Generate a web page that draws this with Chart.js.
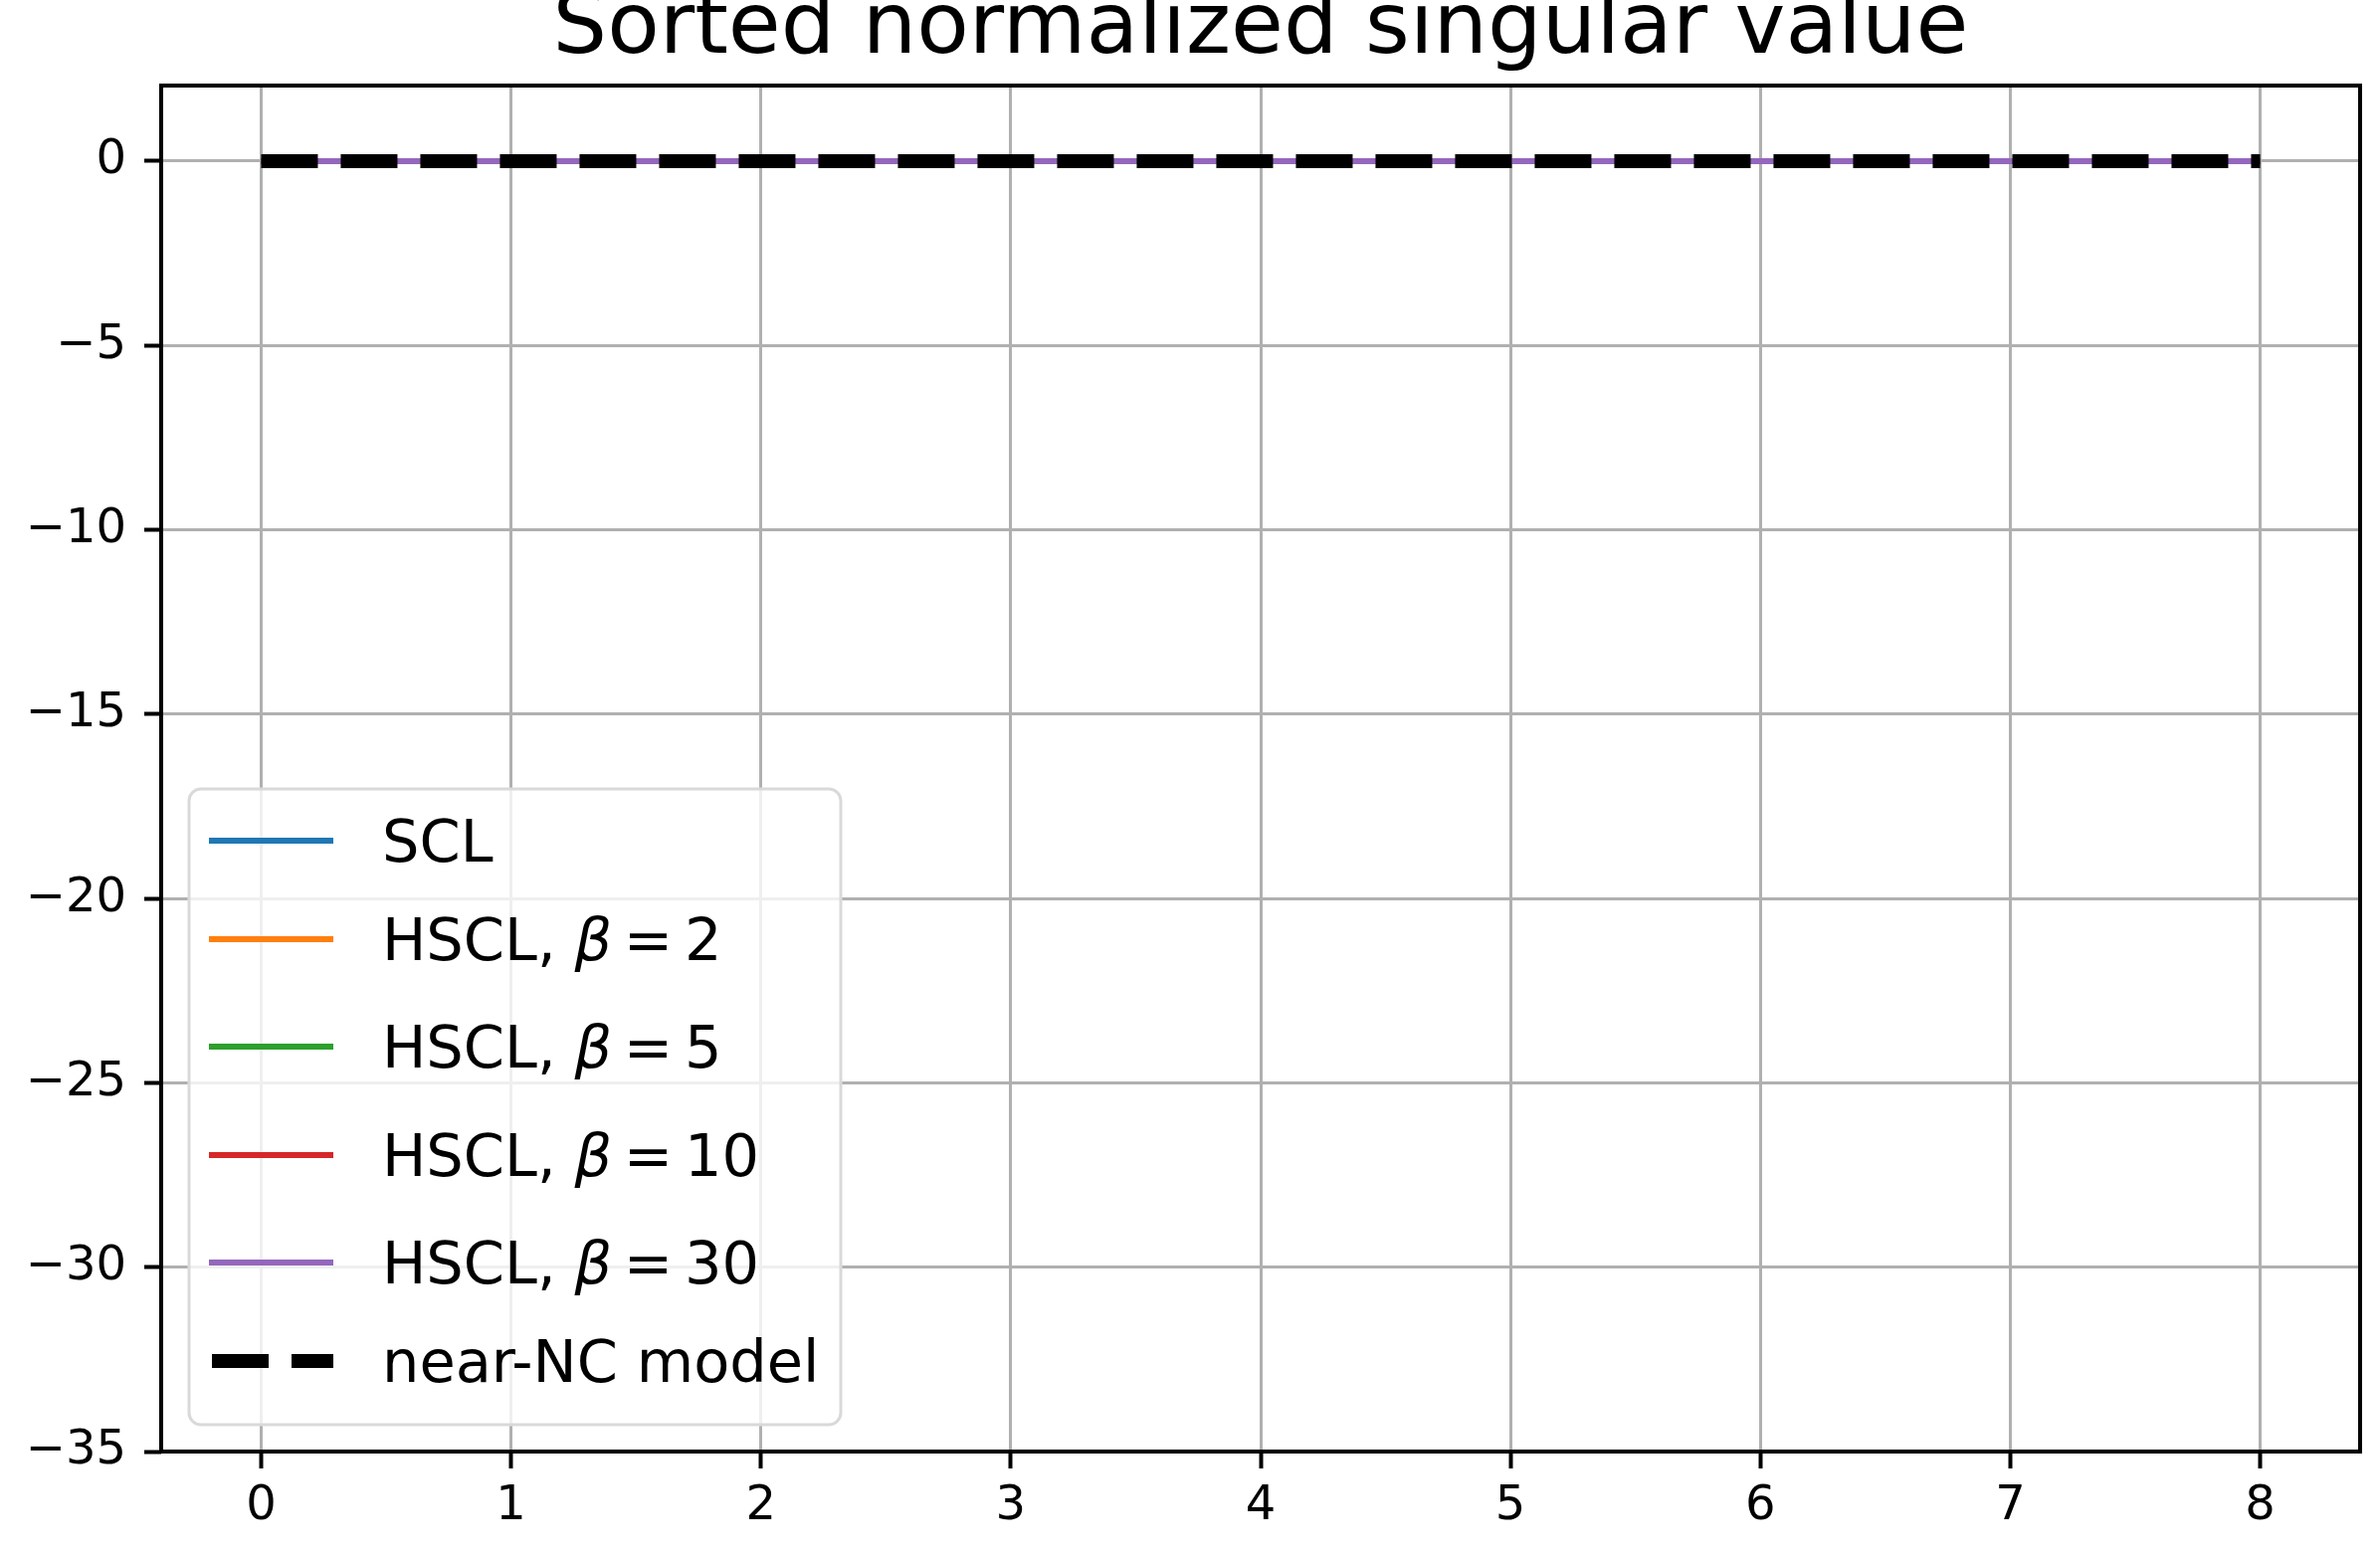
<!DOCTYPE html>
<html>
<head>
<meta charset="utf-8">
<script src="https://cdn.jsdelivr.net/npm/chart.js@4.4.1/dist/chart.umd.min.js"></script>
<style>
  html, body { margin: 0; padding: 0; background: #fff; }
</style>
</head>
<body>
<canvas id="chart" width="2392" height="1565"></canvas>
<script>
const xValues = [0, 1, 2, 3, 4, 5, 6, 7, 8];
const sclValues = [0, 0, 0, 0, 0, 0, 0, 0, 0];
const hscl2Values = [0, 0, 0, 0, 0, 0, 0, 0, 0];
const hscl5Values = [0, 0, 0, 0, 0, 0, 0, 0, 0];
const hscl10Values = [0, 0, 0, 0, 0, 0, 0, 0, 0];
const hscl30Values = [0, 0, 0, 0, 0, 0, 0, 0, 0];
const nearNCValues = [0, 0, 0, 0, 0, 0, 0, 0, 0];

const seriesLabels = ["SCL", "HSCL, β = 2", "HSCL, β = 5", "HSCL, β = 10", "HSCL, β = 30", "near-NC model"];
const xTicks = [0, 1, 2, 3, 4, 5, 6, 7, 8];
const yTicks = [-35, -30, -25, -20, -15, -10, -5, 0];

Chart.defaults.font.family = "'DejaVu Sans', sans-serif";
Chart.defaults.color = "#000";

function points(ys) {
  return xValues.map((x, i) => ({ x, y: ys[i] }));
}

function lineSet(label, ys, color, order) {
  return {
    label,
    data: points(ys),
    borderColor: color,
    backgroundColor: color,
    borderWidth: 6,
    pointRadius: 0,
    fill: false,
    tension: 0,
    order
  };
}

const datasets = [
  lineSet(seriesLabels[0], sclValues, "#1f77b4", 5),
  lineSet(seriesLabels[1], hscl2Values, "#ff7f0e", 4),
  lineSet(seriesLabels[2], hscl5Values, "#2ca02c", 3),
  lineSet(seriesLabels[3], hscl10Values, "#d62728", 2),
  lineSet(seriesLabels[4], hscl30Values, "#9467bd", 1),
  {
    label: seriesLabels[5],
    data: points(nearNCValues),
    borderColor: "#000",
    backgroundColor: "#000",
    borderWidth: 14,
    borderDash: [57, 23],
    pointRadius: 0,
    fill: false,
    order: 0
  }
];

function minusFmt(v) {
  return v < 0 ? "\u2212" + Math.abs(v) : String(v);
}

// frame round the plot area, like matplotlib spines
const framePlugin = {
  id: "frame",
  afterDatasetsDraw(chart) {
    const { ctx, chartArea: a } = chart;
    ctx.save();
    ctx.strokeStyle = "#000";
    ctx.lineWidth = 4;
    ctx.strokeRect(a.left, a.top, a.right - a.left, a.bottom - a.top);
    ctx.restore();
  }
};

// legend drawn inside the axes, lower left
const legendPlugin = {
  id: "innerLegend",
  afterDraw(chart) {
    const ctx = chart.ctx;
    const box = { x: 190, y: 793, w: 655, h: 639, r: 12 };
    const rows = [845, 944, 1052, 1161, 1269, 1368];
    const size = 59;
    const normal = size + "px 'DejaVu Sans'";
    const italic = "italic " + size + "px 'DejaVu Sans'";
    ctx.save();
    ctx.beginPath();
    ctx.roundRect(box.x, box.y, box.w, box.h, box.r);
    ctx.fillStyle = "rgba(255,255,255,0.8)";
    ctx.fill();
    ctx.strokeStyle = "#d9d9d9";
    ctx.lineWidth = 3;
    ctx.stroke();

    chart.data.datasets.forEach((ds, i) => {
      const y = rows[i];
      ctx.beginPath();
      ctx.strokeStyle = ds.borderColor;
      ctx.lineWidth = ds.borderWidth;
      ctx.setLineDash(ds.borderDash || []);
      ctx.lineCap = "butt";
      ctx.moveTo(ds.borderDash ? 213 : 210, y);
      ctx.lineTo(335, y);
      ctx.stroke();
      ctx.setLineDash([]);

      ctx.fillStyle = "#000";
      ctx.textBaseline = "alphabetic";
      const base = y + Math.round(size * 0.36);
      let x = 384;
      const k = ds.label.indexOf("β");
      if (k < 0) {
        ctx.font = normal;
        ctx.fillText(ds.label, x, base);
        return;
      }
      // plain text, then the math part with tighter spacing
      const head = ds.label.slice(0, k);
      ctx.font = normal;
      ctx.fillText(head, x, base);
      x += ctx.measureText(head).width;
      ctx.font = italic;
      ctx.fillText("β", x, base);
      x += ctx.measureText("β").width;
      ctx.font = normal;
      const gap = size * 0.2;
      ds.label.slice(k + 1).trim().split(" ").forEach(tok => {
        x += gap;
        ctx.fillText(tok, x, base);
        x += ctx.measureText(tok).width;
      });
    });
    ctx.restore();
  }
};

new Chart(document.getElementById("chart"), {
  type: "line",
  data: { datasets },
  options: {
    responsive: false,
    devicePixelRatio: 1,
    animation: false,
    layout: { padding: { left: 0, right: 20, top: 0, bottom: 0 } },
    plugins: {
      legend: { display: false },
      tooltip: { enabled: false },
      title: {
        display: true,
        fullSize: false,
        text: "Sorted normalized singular value",
        color: "#000",
        font: { size: 86, weight: "normal", lineHeight: 1 },
        padding: { top: -12, bottom: 12 }
      }
    },
    scales: {
      x: {
        type: "linear",
        min: -0.4,
        max: 8.4,
        afterBuildTicks: s => { s.ticks = xTicks.map(v => ({ value: v })); },
        afterFit: s => { s.height = 106; },
        border: { display: false },
        grid: { color: "#b0b0b0", lineWidth: 3, tickColor: "#000", tickLength: 17, tickWidth: 4 },
        ticks: { font: { size: 48 }, color: "#000", padding: 10, maxRotation: 0, callback: minusFmt }
      },
      y: {
        type: "linear",
        min: -35,
        max: 2.05,
        afterBuildTicks: s => { s.ticks = yTicks.map(v => ({ value: v })); },
        afterFit: s => { s.width = 162; },
        border: { display: false },
        grid: { color: "#b0b0b0", lineWidth: 3, tickColor: "#000", tickLength: 17, tickWidth: 4 },
        ticks: { font: { size: 48 }, color: "#000", padding: 18, callback: minusFmt }
      }
    }
  },
  plugins: [framePlugin, legendPlugin]
});
</script>
</body>
</html>
